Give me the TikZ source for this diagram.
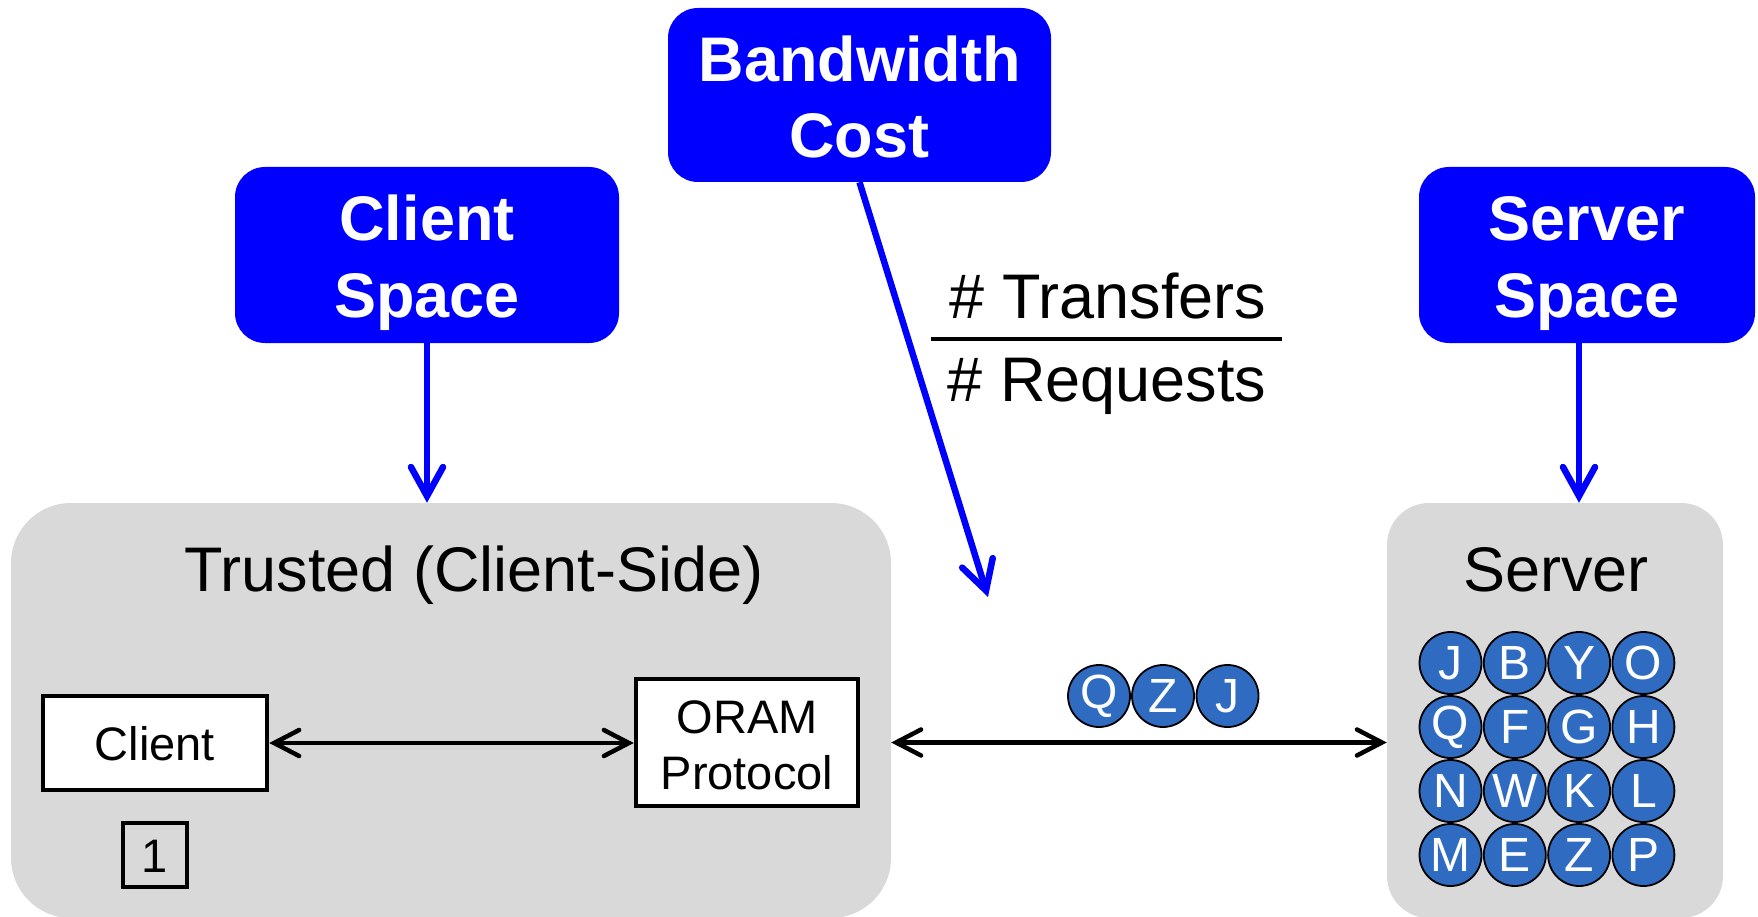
\documentclass[tikz,border=0pt]{standalone}
\usepackage{fontspec}
\setmainfont{Liberation Sans}
\usetikzlibrary{arrows.meta}

\definecolor{tagblue}{HTML}{0000FF}
\definecolor{panelgray}{HTML}{D9D9D9}
\definecolor{blockblue}{HTML}{2F6CC1}

\tikzset{
  tagbox/.style={fill=tagblue, rounded corners=30pt, inner sep=0pt},
  tagtext/.style={text=white, anchor=base, inner sep=0pt,
    font=\fontsize{63}{76}\selectfont\bfseries},
  panel/.style={fill=panelgray, rounded corners=#1, inner sep=0pt},
  bigtext/.style={anchor=base, inner sep=0pt, font=\fontsize{63}{76}\selectfont},
  unitbox/.style={draw=black, fill=white, line width=4.5pt, inner sep=0pt,
    align=center, font=\fontsize{47}{56}\selectfont},
  smalltext/.style={anchor=base, inner sep=0pt, font=\fontsize{47}{56}\selectfont},
  block/.style={circle, draw=black, fill=blockblue, line width=1.8pt,
    minimum size=62pt, inner sep=0pt, text=white,
    font=\fontsize{48}{48}\selectfont},
  bluearrow/.style={draw=tagblue, line width=6.5pt,
    -{Straight Barb[length=29pt, width=32pt, line cap=round]}},
  linkarrow/.style={draw=black, line width=4.5pt,
    {Straight Barb[length=25pt, width=26pt, line cap=round]}-{Straight Barb[length=25pt, width=26pt, line cap=round]}}
}

\begin{document}
\begin{tikzpicture}[x=1pt, y=-1pt]
\useasboundingbox (0,0) rectangle (1758,917);

% gray panels
\node[panel=60pt, minimum width=880pt, minimum height=415pt] (trusted) at (451,710.5) {};
\node[panel=42pt, minimum width=336pt, minimum height=415pt] (server) at (1555,710.5) {};
\node[bigtext] (trustedlabel) at (474,591) {Trusted (Client-Side)};
\node[bigtext] (serverlabel) at (1556,591) {Server};

% blue tags
\node[tagbox, minimum width=383pt, minimum height=174pt] (bw) at (859.5,95) {};
\node[tagtext] (bw1) at (859.5,82) {Bandwidth};
\node[tagtext] (bw2) at (859.5,158) {Cost};

\node[tagbox, minimum width=384pt, minimum height=176pt] (cs) at (427,255) {};
\node[tagtext] (cs1) at (427,241) {Client};
\node[tagtext] (cs2) at (427,317) {Space};

\node[tagbox, minimum width=336pt, minimum height=176pt] (ss) at (1587,255) {};
\node[tagtext] (ss1) at (1587,241) {Server};
\node[tagtext] (ss2) at (1587,317) {Space};

% blue arrows
\coordinate (bwtip) at (988,597);
\draw[bluearrow] (cs.south) -- (cs.south |- trusted.north);
\draw[bluearrow] ([xshift=-8pt]ss.south) -- ([xshift=24pt]server.north);
\draw[bluearrow] (bw.south) -- (bwtip);

% bandwidth ratio
\node[bigtext] (transfers) at (1108,318) {\# Transfers};
\node[bigtext] (requests) at (1107,401) {\# Requests};
\coordinate (barL) at (931,339);
\coordinate (barR) at (1282,339);
\draw[line width=4pt] (barL) -- (barR);

% client side
\node[unitbox, minimum width=224pt, minimum height=94pt] (client) at (155,743) {};
\node[smalltext] (clientlabel) at (155,760) {Client};
\node[unitbox, minimum width=222pt, minimum height=127pt] (oram) at (747,742.5) {};
\node[smalltext] (oram1) at (747,733) {ORAM};
\node[smalltext] (oram2) at (747,789) {Protocol};
\node[unitbox, fill=none, minimum width=64pt, minimum height=64pt] (stash) at (155,855) {};
\node[smalltext] (stashlabel) at (155,872) {1};

\draw[linkarrow] (client.east) -- (client.east -| oram.west);
\draw[linkarrow] (oram.east -| trusted.east) -- (oram.east -| server.west);

% blocks in transit
\node[block] (t1) at (1099,696) {Q};
\node[block] (t2) at (1163,696) {Z};
\node[block] (t3) at (1227.5,696) {J};

% blocks stored on the server
\foreach \ch [count=\i from 0] in {J,B,Y,O,Q,F,G,H,N,W,K,L,M,E,Z,P} {
  \pgfmathtruncatemacro{\col}{mod(\i,4)}
  \pgfmathtruncatemacro{\row}{div(\i,4)}
  \node[block] (s\i) at ({1450.5+64.3*\col},{663+64*\row}) {\ch};
}
\end{tikzpicture}
\end{document}
